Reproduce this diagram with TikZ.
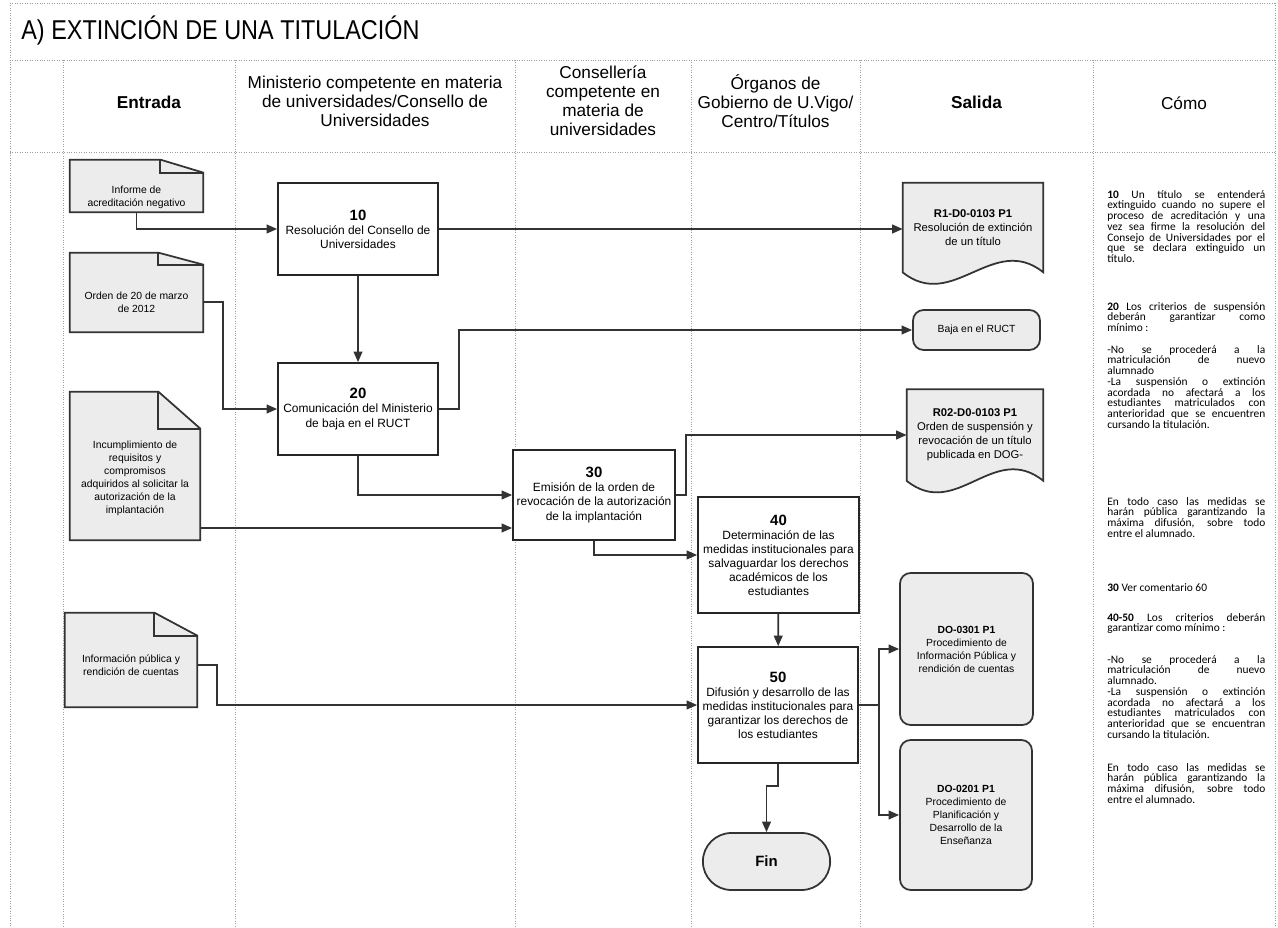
\documentclass[tikz,border=0pt]{standalone}
\usepackage{fontspec}
\setmainfont{Liberation Sans}
\newfontfamily\titlefont{Liberation Sans}[FakeStretch=0.86]
\newfontfamily\comofont{Carlito}
\usetikzlibrary{arrows.meta, backgrounds, shapes.misc}

% paper with a folded corner: node, fold width, fold height, extra height on top
\newcommand{\foldpaper}[4]{%
  \filldraw[docline] ([yshift=#4]#1.north west) -- ([xshift=-#2,yshift=#4]#1.north east)
    -- ([yshift=#4-#3]#1.north east) -- (#1.south east) -- (#1.south west) -- cycle;
  \draw[docline, fill=none] ([xshift=-#2,yshift=#4]#1.north east) |- ([yshift=#4-#3]#1.north east);
}
% paper with a wavy bottom edge
\newcommand{\wavepaper}[1]{%
  \filldraw[docline] (#1.south west) -- (#1.north west) -- (#1.north east) -- (#1.south east)
    .. controls +(-1cm,0.8cm) and +(1cm,-0.8cm) .. (#1.south west) -- cycle;
}
% step number
\newcommand{\stepnum}[1]{{\fontsize{8.5}{10}\selectfont\bfseries #1}}

\begin{document}
\begin{tikzpicture}[x=0.02cm, y=-0.02cm,
    grid/.style={gray!75, line width=0.4pt, densely dotted},
    head/.style={align=center, font=\fontsize{9.8}{10.8}\selectfont},
    proc/.style={draw=black!85, line width=1pt, fill=white, align=center, inner sep=2pt,
                 font=\fontsize{6.8}{8}\selectfont},
    docbox/.style={align=center, inner sep=1pt, font=\fontsize{5.9}{7.4}\selectfont},
    wavebox/.style={align=center, inner sep=1pt, font=\fontsize{6.4}{8}\selectfont},
    docline/.style={draw=black!80, line width=1pt, fill=gray!15},
    outbox/.style={draw=black!80, line width=1pt, fill=gray!15, rounded corners=6pt,
                   align=center, font=\fontsize{5.9}{7.4}\selectfont},
    flow/.style={draw=black!80, line width=1pt, -{Triangle[length=6pt,width=5pt]}},
    como/.style={anchor=north west, inner sep=0pt, text width=3.16cm, align=justify,
                 font=\comofont\fontsize{6.5}{6.1}\selectfont}]

    \useasboundingbox (0,0) rectangle (1278,928);

    % frame and lanes
    \draw[grid] (10,3) -- (1275,3);
    \draw[grid] (10,60) -- (1275,60);
    \draw[grid] (10,152) -- (1275,152);
    \draw[grid] (10,3) -- (10,928);
    \draw[grid] (1275,3) -- (1275,928);
    \foreach \x in {63,235,515,691,860,1093}
        \draw[grid] (\x,60) -- (\x,928);

    \node[anchor=base west, inner sep=0pt, font=\titlefont\fontsize{15.5}{18}\selectfont] (title) at (21,40) {A) EXTINCIÓN DE UNA TITULACIÓN};

    \node[head, font=\fontsize{9.8}{10.8}\selectfont\bfseries] (hin) at (149,102) {Entrada};
    \node[head] (hmin) at (375,101) {Ministerio competente en materia\\de universidades/Consello de\\Universidades};
    \node[head] (hcons) at (603,101) {Consellería\\competente en\\materia de\\universidades};
    \node[head] (horg) at (775.5,101) {Órganos de\\Gobierno de U.Vigo/\\Centro/Títulos};
    \node[head, font=\fontsize{9.8}{10.8}\selectfont\bfseries] (hout) at (976.5,102) {Salida};
    \node[head] (hcomo) at (1184,103) {Cómo};

    % entradas
    \node[docbox, minimum width=2.66cm, minimum height=0.6cm] (d1) at (136.5,197) {Informe de\\acreditación negativo};
    \node[docbox, minimum width=2.66cm, minimum height=1.2cm] (d2) at (136.5,302) {Orden de 20 de marzo\\de 2012};
    \node[docbox, minimum width=2.6cm, minimum height=2.48cm] (d3) at (135,478) {Incumplimiento de\\requisitos y\\compromisos\\adquiridos al solicitar la\\autorización de la\\implantación};
    \node[docbox, minimum width=2.64cm, minimum height=1.68cm] (d4) at (131,665) {Información pública y\\rendición de cuentas};

    % pasos
    \node[proc, minimum width=3.2cm, minimum height=1.84cm] (b10) at (358,229) {\stepnum{10}\\Resolución del Consello de\\Universidades};
    \node[proc, minimum width=3.2cm, minimum height=1.84cm] (b20) at (358,409) {\stepnum{20}\\Comunicación del Ministerio\\de baja en el RUCT};
    \node[proc, minimum width=3.24cm, minimum height=1.8cm] (b30) at (594,495) {\stepnum{30}\\Emisión de la orden de\\revocación de la autorización\\de la implantación};
    \node[proc, minimum width=3.22cm, minimum height=2.32cm] (b40) at (778.5,555) {\stepnum{40}\\Determinación de las\\medidas institucionales para\\salvaguardar los derechos\\académicos de los\\estudiantes};
    \node[proc, minimum width=3.2cm, minimum height=2.32cm] (b50) at (778,705) {\stepnum{50}\\Difusión y desarrollo de las\\medidas institucionales para\\garantizar los derechos de\\los estudiantes};
    \node[rounded rectangle, draw=black!80, line width=1pt, fill=gray!15, minimum width=2.78cm, minimum height=1.14cm,
          font=\fontsize{8.5}{10}\selectfont\bfseries] (fin) at (766.5,861.5) {Fin};

    % salidas
    \node[wavebox, minimum width=2.8cm, minimum height=1.78cm] (r1) at (973,227.5) {\textbf{R1-D0-0103 P1}\\Resolución de extinción\\de un título};
    \node[outbox, minimum width=2.54cm, minimum height=0.8cm] (baja) at (976.5,330) {Baja en el RUCT};
    \node[wavebox, minimum width=2.72cm, minimum height=1.82cm] (r02) at (975,435) {\textbf{R02-D0-0103 P1}\\Orden de suspensión y\\revocación de un título\\publicada en DOG-};
    \node[outbox, minimum width=2.66cm, minimum height=3.04cm] (do301) at (966.5,649) {\textbf{DO-0301 P1}\\Procedimiento de\\Información Pública y\\rendición de cuentas};
    \node[outbox, minimum width=2.64cm, minimum height=3cm] (do201) at (966,815) {\textbf{DO-0201 P1}\\Procedimiento de\\Planificación y\\Desarrollo de la\\Enseñanza};

    \begin{scope}[on background layer]
        \foldpaper{d1}{0.86cm}{0.26cm}{0.44cm}
        \foldpaper{d2}{0.9cm}{0.24cm}{0.38cm}
        \foldpaper{d3}{0.84cm}{0.74cm}{0.48cm}
        \foldpaper{d4}{0.86cm}{0.46cm}{0.2cm}
        \wavepaper{r1}
        \wavepaper{r02}
    \end{scope}

    \coordinate (in30) at ([yshift=-0.66cm]b30.west);

    \draw[flow] (d1.south) |- (b10.west);
    \draw[flow] (d2.east) -- ++(20,0) |- (b20.west);
    \draw[flow] (in30 -| d3.east) -- (in30);
    \draw[flow] (d4.east) -- ++(20,0) |- (b50.west);

    \draw[flow] (b10) -- (b20);
    \draw[flow] (b10.east) -- (b10.east -| r1.west);
    \draw[flow] (b20.east) -- ++(20,0) |- (baja.west);
    \draw[flow] (b20.south) |- (b30.west);
    \draw[flow] (b30.east) -- ++(10,0) |- (r02.west);
    \draw[flow] (b30.south) |- (b40.west);
    \draw[flow] (b40) -- (b50);
    \draw[flow] (b50.south) -- ++(0,22) -| (fin.north);
    \draw[flow] (b50.east) -- ++(20,0) |- (do301.west);
    \draw[flow] (b50.east) -- ++(20,0) |- (do201.west);

    % como
    \node[como] (c1) at (1107,190) {\textbf{10} Un título se entenderá\linebreak extinguido cuando no supere el\linebreak proceso de acreditación y una\linebreak vez sea firme la resolución del\linebreak Consejo de Universidades por el\linebreak que se declara extinguido un\linebreak título.};
    \node[como] (c2) at (1107,302) {\textbf{20} Los criterios de suspensión\linebreak deberán garantizar como\linebreak mínimo :};
    \node[como] (c3) at (1107,345) {-No se procederá a la\linebreak matriculación de nuevo\linebreak alumnado\par -La suspensión o extinción\linebreak acordada no afectará a los\linebreak estudiantes matriculados con\linebreak anterioridad que se encuentren\linebreak cursando la titulación.};
    \node[como] (c4) at (1107,497) {En todo caso las medidas se\linebreak harán pública garantizando la\linebreak máxima difusión, sobre todo\linebreak entre el alumnado.};
    \node[como] (c5) at (1107,583) {\textbf{30} Ver comentario 60};
    \node[como] (c6) at (1107,613) {\textbf{40-50} Los criterios deberán\linebreak garantizar como mínimo :};
    \node[como] (c7) at (1107,655) {-No se procederá a la\linebreak matriculación de nuevo\linebreak alumnado.\par -La suspensión o extinción\linebreak acordada no afectará a los\linebreak estudiantes matriculados con\linebreak anterioridad que se encuentran\linebreak cursando la titulación.};
    \node[como] (c8) at (1107,763) {En todo caso las medidas se\linebreak harán pública garantizando la\linebreak máxima difusión, sobre todo\linebreak entre el alumnado.};

\end{tikzpicture}
\end{document}
